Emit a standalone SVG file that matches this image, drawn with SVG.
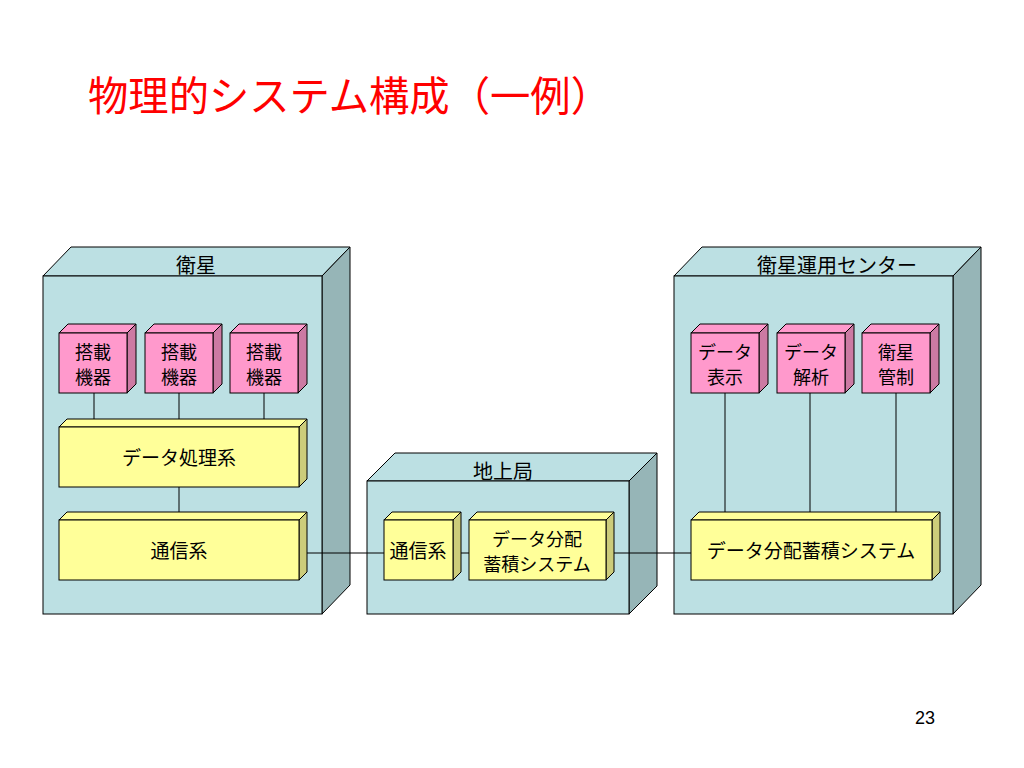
<svg xmlns="http://www.w3.org/2000/svg" width="1024" height="768" viewBox="0 0 1024 768">
<style>
text{font-family:"Noto Sans CJK JP","Noto Sans",sans-serif;fill:#000;text-anchor:middle}
.t{font-size:19px}
.t2{font-size:18px}
.lbl{font-size:20px}
.title{font-size:41px;fill:#FF0000;text-anchor:start}
.pg{font-family:"Liberation Sans",Arial,sans-serif;font-size:18px}
.n-front{fill:#BCE0E3;stroke:#000;stroke-width:1}
.n-top{fill:#BCE0E3;stroke:#000;stroke-width:1}
.n-side{fill:#96B5B7;stroke:#000;stroke-width:1}
.p-front{fill:#FF99CC;stroke:#000;stroke-width:1}
.p-side{fill:#CC7AA3;stroke:#000;stroke-width:1}
.y-front{fill:#FFFF99;stroke:#000;stroke-width:1}
.y-side{fill:#CCCC7A;stroke:#000;stroke-width:1}
.c{stroke:#000;stroke-width:1;fill:none}
</style>
<rect width="1024" height="768" fill="#fff"/>
<text class="title" x="88" y="111" textLength="523" lengthAdjust="spacingAndGlyphs">物理的システム構成（一例）</text>

<g id="satellite">
<polygon class="n-top" points="43,276 71,247 350,247 322,276"/>
<polygon class="n-side" points="322,276 350,247 350,585 322,614"/>
<rect class="n-front" x="43" y="276" width="279" height="338"/>
<text class="lbl" x="196" y="273">衛星</text>
</g>
<g id="ground">
<polygon class="n-top" points="367,481 395,453 657,453 629,481"/>
<polygon class="n-side" points="629,481 657,453 657,586 629,614"/>
<rect class="n-front" x="367" y="481" width="262" height="133"/>
<text class="lbl" x="503" y="479">地上局</text>
</g>
<g id="opscenter">
<polygon class="n-top" points="674,276 702,247 981,247 953,276"/>
<polygon class="n-side" points="953,276 981,247 981,585 953,614"/>
<rect class="n-front" x="674" y="276" width="279" height="338"/>
<text class="lbl" x="837" y="273">衛星運用センター</text>
</g>

<g id="connectors">
<line class="c" x1="94" y1="393" x2="94" y2="419"/>
<line class="c" x1="179" y1="393" x2="179" y2="419"/>
<line class="c" x1="264" y1="393" x2="264" y2="419"/>
<line class="c" x1="179" y1="487" x2="179" y2="512"/>
<line class="c" x1="307" y1="553" x2="384" y2="553"/>
<line class="c" x1="461" y1="553" x2="469" y2="553"/>
<line class="c" x1="614" y1="553" x2="691" y2="553"/>
<line class="c" x1="725" y1="393" x2="725" y2="512"/>
<line class="c" x1="810" y1="393" x2="810" y2="512"/>
<line class="c" x1="896" y1="393" x2="896" y2="512"/>
</g>

<g id="equip1">
<polygon class="p-front" points="59,333 68,324 136,324 127,333"/>
<polygon class="p-side" points="127,333 136,324 136,384 127,393"/>
<rect class="p-front" x="59" y="333" width="68" height="60"/>
<text class="t2" x="93" y="359">搭載</text><text class="t2" x="93" y="384">機器</text>
</g>
<g id="equip2">
<polygon class="p-front" points="145,333 154,324 222,324 213,333"/>
<polygon class="p-side" points="213,333 222,324 222,384 213,393"/>
<rect class="p-front" x="145" y="333" width="68" height="60"/>
<text class="t2" x="179" y="359">搭載</text><text class="t2" x="179" y="384">機器</text>
</g>
<g id="equip3">
<polygon class="p-front" points="230,333 239,324 307,324 298,333"/>
<polygon class="p-side" points="298,333 307,324 307,384 298,393"/>
<rect class="p-front" x="230" y="333" width="68" height="60"/>
<text class="t2" x="264" y="359">搭載</text><text class="t2" x="264" y="384">機器</text>
</g>
<g id="dataproc">
<polygon class="y-front" points="59,427 67,419 307,419 299,427"/>
<polygon class="y-side" points="299,427 307,419 307,479 299,487"/>
<rect class="y-front" x="59" y="427" width="240" height="60"/>
<text class="t" x="179" y="465">データ処理系</text>
</g>
<g id="satcomm">
<polygon class="y-front" points="59,520 67,512 307,512 299,520"/>
<polygon class="y-side" points="299,520 307,512 307,572 299,580"/>
<rect class="y-front" x="59" y="520" width="240" height="60"/>
<text class="t" x="179" y="558">通信系</text>
</g>
<g id="gscomm">
<polygon class="y-front" points="384,520 392,512 461,512 453,520"/>
<polygon class="y-side" points="453,520 461,512 461,572 453,580"/>
<rect class="y-front" x="384" y="520" width="69" height="60"/>
<text class="t" x="418" y="558">通信系</text>
</g>
<g id="gsdist">
<polygon class="y-front" points="469,520 477,512 614,512 606,520"/>
<polygon class="y-side" points="606,520 614,512 614,572 606,580"/>
<rect class="y-front" x="469" y="520" width="137" height="60"/>
<text class="t2" x="537" y="546">データ分配</text><text class="t2" x="537" y="571">蓄積システム</text>
</g>
<g id="display">
<polygon class="p-front" points="691,333 700,324 768,324 759,333"/>
<polygon class="p-side" points="759,333 768,324 768,384 759,393"/>
<rect class="p-front" x="691" y="333" width="68" height="60"/>
<text class="t2" x="725" y="359">データ</text><text class="t2" x="725" y="384">表示</text>
</g>
<g id="analysis">
<polygon class="p-front" points="777,333 786,324 854,324 845,333"/>
<polygon class="p-side" points="845,333 854,324 854,384 845,393"/>
<rect class="p-front" x="777" y="333" width="68" height="60"/>
<text class="t2" x="811" y="359">データ</text><text class="t2" x="811" y="384">解析</text>
</g>
<g id="control">
<polygon class="p-front" points="862,333 871,324 939,324 930,333"/>
<polygon class="p-side" points="930,333 939,324 939,384 930,393"/>
<rect class="p-front" x="862" y="333" width="68" height="60"/>
<text class="t2" x="896" y="359">衛星</text><text class="t2" x="896" y="384">管制</text>
</g>
<g id="opsdist">
<polygon class="y-front" points="691,520 699,512 940,512 932,520"/>
<polygon class="y-side" points="932,520 940,512 940,572 932,580"/>
<rect class="y-front" x="691" y="520" width="241" height="60"/>
<text class="t" x="811" y="558">データ分配蓄積システム</text>
</g>

<text class="pg" x="925" y="724">23</text>
</svg>
